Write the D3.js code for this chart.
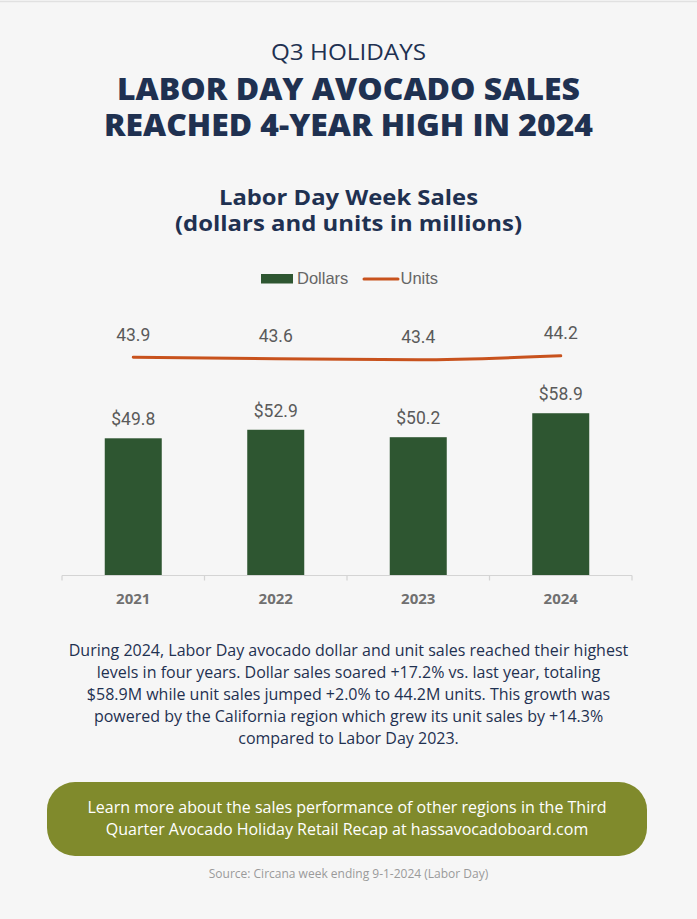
<!DOCTYPE html>
<html>
<head>
<meta charset="utf-8">
<script src="https://cdn.jsdelivr.net/npm/d3@7"></script>
<style>
  html, body { margin: 0; padding: 0; background: #f6f6f6; }
  svg { display: block; }
</style>
</head>
<body>
<div id="chart"></div>
<script>
// ---- data ----
const years = ["2021", "2022", "2023", "2024"];
const dollars = [49.8, 52.9, 50.2, 58.9];
const units = [43.9, 43.6, 43.4, 44.2];
const dollarLabels = ["$49.8", "$52.9", "$50.2", "$58.9"];
const unitLabels = ["43.9", "43.6", "43.4", "44.2"];
const seriesNames = ["Dollars", "Units"];
const kicker = "Q3 HOLIDAYS";
const titleLines = ["LABOR DAY AVOCADO SALES", "REACHED 4-YEAR HIGH IN 2024"];
const subtitleLines = ["Labor Day Week Sales", "(dollars and units in millions)"];
const bodyLines = [
  "During 2024, Labor Day avocado dollar and unit sales reached their highest",
  "levels in four years. Dollar sales soared +17.2% vs. last year, totaling",
  "$58.9M while unit sales jumped +2.0% to 44.2M units. This growth was",
  "powered by the California region which grew its unit sales by +14.3%",
  "compared to Labor Day 2023."
];
const buttonLines = [
  "Learn more about the sales performance of other regions in the Third",
  "Quarter Avocado Holiday Retail Recap at hassavocadoboard.com"
];
const sourceText = "Source: Circana week ending 9-1-2024 (Labor Day)";

// ---- setup ----
const W = 697, H = 919;
const NAVY = "#1f3151", GREEN = "#2e5631", ORANGE = "#c8521d", OLIVE = "#808a2c", GRAY = "#666666";
const svg = d3.select("#chart").append("svg").attr("width", W).attr("height", H);
svg.append("rect").attr("width", W).attr("height", H).attr("fill", "#f6f6f6");
svg.append("line").attr("x1", 0).attr("x2", W).attr("y1", 1.5).attr("y2", 1.5)
  .attr("stroke", "#e1e1e1").attr("stroke-width", 1.5);

const cx = W / 2;

svg.append("text").attr("x", cx).attr("y", 60).attr("text-anchor", "middle")
  .attr("font-family", "Open Sans").attr("font-size", 22.5).attr("fill", NAVY)
  .attr("textLength", 155).attr("lengthAdjust", "spacingAndGlyphs")
  .text(kicker);

const titleLens = [463, 489];
titleLines.forEach((t, i) => {
  svg.append("text").attr("x", cx).attr("y", 99.5 + i * 36).attr("text-anchor", "middle")
    .attr("font-family", "Open Sans").attr("font-weight", 800).attr("font-size", 30)
    .attr("fill", NAVY).attr("textLength", titleLens[i]).attr("lengthAdjust", "spacingAndGlyphs")
    .text(t);
});

const subLens = [259, 347];
subtitleLines.forEach((t, i) => {
  svg.append("text").attr("x", cx).attr("y", 204.5 + i * 26).attr("text-anchor", "middle")
    .attr("font-family", "Open Sans").attr("font-weight", 700).attr("font-size", 21.5)
    .attr("fill", NAVY).attr("textLength", subLens[i]).attr("lengthAdjust", "spacingAndGlyphs")
    .text(t);
});

// ---- legend ----
const lg = svg.append("g").attr("font-family", "Liberation Sans, Arial, sans-serif")
  .attr("font-size", 16.5).attr("fill", GRAY);
lg.append("rect").attr("x", 261).attr("y", 274).attr("width", 32).attr("height", 9.5).attr("fill", GREEN);
lg.append("text").attr("x", 297).attr("y", 284).text(seriesNames[0]);
lg.append("line").attr("x1", 364).attr("x2", 398).attr("y1", 279).attr("y2", 279)
  .attr("stroke", ORANGE).attr("stroke-width", 3).attr("stroke-linecap", "round");
lg.append("text").attr("x", 400.5).attr("y", 284).text(seriesNames[1]);

// ---- scales ----
const baseY = 575.5;
const x = d3.scaleBand().domain(years).range([62, 632]).paddingInner(0.6).paddingOuter(0.3);
const yD = d3.scaleLinear().domain([0, 80]).range([baseY, baseY - 80 * 2.755]);
const yU = d3.scaleLinear().domain([0, 50]).range([baseY, baseY - 50 * 4.97]);

// bars
svg.append("g").selectAll("rect").data(years).join("rect")
  .attr("x", d => x(d)).attr("width", x.bandwidth())
  .attr("y", (d, i) => yD(dollars[i])).attr("height", (d, i) => baseY - yD(dollars[i]))
  .attr("fill", GREEN);

const labelFont = "Roboto, 'Open Sans', sans-serif";
svg.append("g").selectAll("text").data(years).join("text")
  .attr("x", d => x(d) + x.bandwidth() / 2).attr("y", (d, i) => yD(dollars[i]) - 13)
  .attr("text-anchor", "middle").attr("font-family", labelFont).attr("font-size", 17.5)
  .attr("fill", "#5a5a5a").text((d, i) => dollarLabels[i]);

// units line
const line = d3.line().x((d, i) => x(years[i]) + x.bandwidth() / 2).y(d => yU(d)).curve(d3.curveMonotoneX);
svg.append("path").datum(units).attr("d", line).attr("fill", "none")
  .attr("stroke", ORANGE).attr("stroke-width", 3).attr("stroke-linecap", "round");

svg.append("g").selectAll("text").data(years).join("text")
  .attr("x", d => x(d) + x.bandwidth() / 2).attr("y", (d, i) => yU(units[i]) - 16.5)
  .attr("text-anchor", "middle").attr("font-family", labelFont).attr("font-size", 17.5)
  .attr("fill", "#5a5a5a").text((d, i) => unitLabels[i]);

// x axis
const axisG = svg.append("g").attr("transform", `translate(0,${baseY})`);
axisG.append("line").attr("x1", 62).attr("x2", 632).attr("y1", 0).attr("y2", 0)
  .attr("stroke", "#d4d4d4").attr("stroke-width", 1.2);
const bounds = years.map(d => x(d) - (x.step() - x.bandwidth()) / 2);
bounds.push(632);
axisG.selectAll(".tk").data(bounds).join("line").attr("class", "tk")
  .attr("x1", d => d).attr("x2", d => d).attr("y1", 0).attr("y2", 5)
  .attr("stroke", "#d4d4d4").attr("stroke-width", 1.2);
axisG.selectAll(".yl").data(years).join("text").attr("class", "yl")
  .attr("x", d => x(d) + x.bandwidth() / 2).attr("y", 28)
  .attr("text-anchor", "middle").attr("font-family", "'Open Sans', sans-serif")
  .attr("font-weight", 700).attr("font-size", 15).attr("fill", "#707070")
  .text(d => d);

// body paragraph
bodyLines.forEach((t, i) => {
  svg.append("text").attr("x", cx).attr("y", 656 + i * 22).attr("text-anchor", "middle")
    .attr("font-family", "Open Sans").attr("font-size", 16).attr("fill", NAVY).text(t);
});

// button
svg.append("rect").attr("x", 47).attr("y", 782).attr("width", 600).attr("height", 74)
  .attr("rx", 28).attr("fill", OLIVE);
buttonLines.forEach((t, i) => {
  svg.append("text").attr("x", 347).attr("y", 813 + i * 22).attr("text-anchor", "middle")
    .attr("font-family", "Open Sans").attr("font-size", 16).attr("fill", "#ffffff").text(t);
});

svg.append("text").attr("x", cx).attr("y", 878).attr("text-anchor", "middle")
  .attr("font-family", "Open Sans").attr("font-size", 12).attr("fill", "#9a9a9a").text(sourceText);
</script>
</body>
</html>
